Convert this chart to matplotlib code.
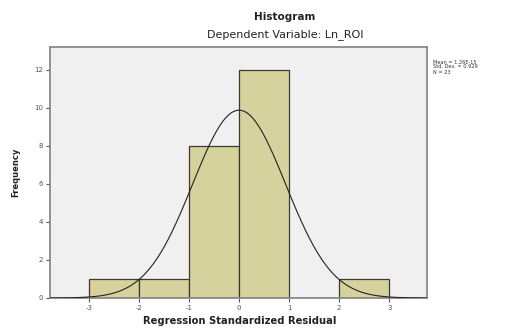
import numpy as np
import matplotlib
matplotlib.use("Agg")
import matplotlib.pyplot as plt

# Histogram of regression standardized residuals
bin_edges = [-3, -2, -1, 0, 1, 2, 3]
counts = [1, 1, 8, 12, 0, 1]
y_ticks = [0, 2, 4, 6, 8, 10, 12]
x_ticks = [-3, -2, -1, 0, 1, 2, 3]
mean_val = 1.26e-15
std_val = 0.929
n_obs = 23

fig = plt.figure(figsize=(5.09, 3.28), dpi=100)
fig.patch.set_facecolor("white")
ax = fig.add_axes([50/509, 30/328, (426.7-50)/509, (298-47)/328])
ax.set_facecolor("#f0f0f0")

widths = np.diff(bin_edges)
ax.bar(bin_edges[:-1], counts, width=widths, align="edge",
       color="#d6d29e", edgecolor="#3a3a30", linewidth=0.9, zorder=2)

# normal curve scaled to counts
xs = np.linspace(-3.78, 3.75, 400)
bw = 1.0
ys = n_obs * bw / (std_val * np.sqrt(2 * np.pi)) * np.exp(-0.5 * ((xs - mean_val) / std_val) ** 2)
ax.plot(xs, ys, color="#222222", linewidth=0.8, zorder=3)

ax.set_xlim(-3.78, 3.75)
ax.set_ylim(0, 13.2)
ax.set_xticks(x_ticks)
ax.set_yticks(y_ticks)
ax.set_xticklabels([str(t) for t in x_ticks])
ax.set_yticklabels([str(t) for t in y_ticks])
ax.tick_params(axis="both", labelsize=5, colors="#555555", length=3, width=0.8,
               labelcolor="#555555", pad=2)
for s in ax.spines.values():
    s.set_color("#8a8a8a")
    s.set_linewidth(1.3)

ax.set_ylabel("Frequency", fontsize=6, fontweight="bold", color="#222222", labelpad=10)
fig.text(240/509, 1 - 321/328, "Regression Standardized Residual", ha="center",
         va="center", fontsize=7.2, fontweight="bold", color="#222222")

fig.text(285/509, 1 - 17/328, "Histogram", ha="center", va="center",
         fontsize=7.5, fontweight="bold", color="#222222")
fig.text(285/509, 1 - 35/328, "Dependent Variable: Ln_ROI", ha="center", va="center",
         fontsize=8, color="#222222")

fig.text(433/509, 1 - 62/328, f"Mean = {mean_val:.2E}", ha="left", va="center",
         fontsize=3.6, color="#333333")
fig.text(433/509, 1 - 67/328, f"Std. Dev. = {std_val:.3f}", ha="left", va="center",
         fontsize=3.6, color="#333333")
fig.text(433/509, 1 - 72/328, f"N = {n_obs}", ha="left", va="center",
         fontsize=3.6, color="#333333")

fig.savefig("out.png", dpi=100)
